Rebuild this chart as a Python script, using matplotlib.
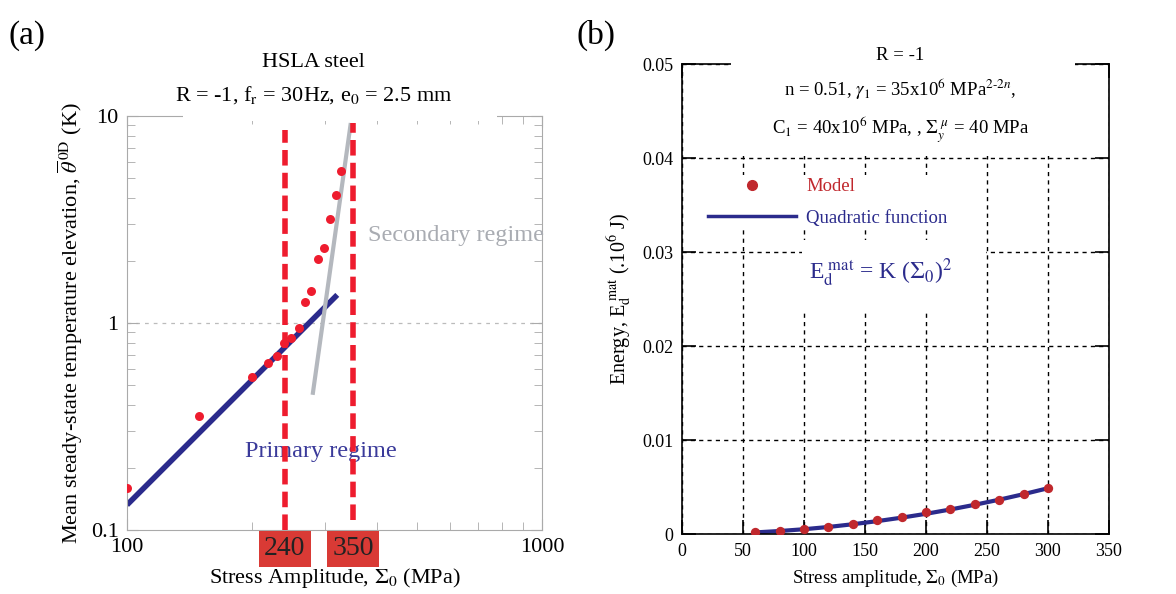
import matplotlib.pyplot as plt
import matplotlib.ticker as mticker
import matplotlib.transforms as mtransforms
from matplotlib.lines import Line2D
from matplotlib.patches import Rectangle

plt.rcParams['font.family'] = ['Liberation Serif', 'DejaVu Serif']
plt.rcParams['mathtext.fontset'] = 'stix'

# (a) HSLA steel: mean steady-state temperature elevation
stress_a = [100, 149, 200, 219, 230, 239, 248, 259, 268, 278, 288, 299, 308, 318, 328]
theta_a = [0.159, 0.356, 0.547, 0.638, 0.693, 0.80, 0.849, 0.948, 1.26, 1.43,
           2.03, 2.30, 3.18, 4.14, 5.42]
primary_x = [100, 321]
primary_y = [0.132, 1.365]
secondary_x = [280, 346]
secondary_y = [0.449, 9.23]
limits = [240, 350]
limit_bottom = [0.1, 0.112]
limit_top = [8.55, 9.26]

# (b) dissipated energy vs stress amplitude
stress_b = [60, 80, 100, 120, 140, 160, 180, 200, 220, 240, 260, 280, 300]
energy_model = [0.0002, 0.00038, 0.00056, 0.0008, 0.00113, 0.00149, 0.00184,
                0.00234, 0.0027, 0.0032, 0.0037, 0.0043, 0.0049]
energy_quad = [0.0002, 0.00035, 0.00054, 0.00078, 0.00107, 0.0014, 0.00177,
               0.00218, 0.00264, 0.00314, 0.00368, 0.00427, 0.0049]

RED = '#ee1c2e'
NAVY = '#2b2b8c'
DARKRED = '#c0282d'
GREY = '#aaaaaa'

fig = plt.figure(figsize=(11.76, 5.94), dpi=100)

# ---------------- panel (a) ----------------
ax1 = fig.add_axes([0.108, 0.108, 0.353, 0.697])
ax1.set_xscale('log')
ax1.set_yscale('log')
ax1.set_xlim(100, 1000)
ax1.set_ylim(0.1, 10)

ax1.axhline(1, color='#bbbbbb', ls=(0, (3, 4)), lw=0.9, zorder=1)
ax1.plot(primary_x, primary_y, color=NAVY, lw=4, solid_capstyle='butt', zorder=2)
ax1.plot(secondary_x, secondary_y, color='#b4b8be', lw=3, solid_capstyle='butt', zorder=2)
ax1.scatter(stress_a, theta_a, s=42, color=RED, zorder=4, linewidths=0)
for x, lo, hi in zip(limits, limit_bottom, limit_top):
    ax1.plot([x, x], [lo, hi], color=RED, lw=4, ls=(0, (2.8, 1.3)), zorder=5)

ax1.xaxis.set_major_locator(mticker.FixedLocator([100, 1000]))
ax1.xaxis.set_major_formatter(mticker.FixedFormatter(['100', '1000']))
ax1.yaxis.set_major_locator(mticker.FixedLocator([0.1, 1, 10]))
ax1.yaxis.set_major_formatter(mticker.FixedFormatter(['0.1', '1', '10']))
ax1.xaxis.set_minor_formatter(mticker.NullFormatter())
ax1.yaxis.set_minor_formatter(mticker.NullFormatter())
ax1.tick_params(which='both', direction='in', top=True, right=True,
                color=GREY, labelsize=16)
ax1.tick_params(which='major', length=8, pad=6)
ax1.tick_params(which='minor', length=6)
for s in ax1.spines.values():
    s.set_color(GREY)

# white box behind the title
ax1.add_patch(Rectangle((0.135, 0.988), 0.757, 0.3, transform=ax1.transAxes,
                        fc='white', ec='none', clip_on=False, zorder=3))
ax1.text(0.45, 1.128, 'HSLA steel', transform=ax1.transAxes, ha='center',
         va='center', fontsize=16, zorder=4)
ax1.text(0.45, 1.051, r'R = -1, f$_\mathrm{r}$ = 30Hz, e$_0$ = 2.5 mm',
         transform=ax1.transAxes, ha='center', va='center', fontsize=16, zorder=4)

ax1.text(0.58, 0.71, 'Secondary regime', transform=ax1.transAxes, color='#a9acb2',
         fontsize=17.5, ha='left', va='center')
ax1.text(0.285, 0.19, 'Primary regime', transform=ax1.transAxes, color='#3a3a9a',
         fontsize=17.5, ha='left', va='center')

trans = mtransforms.blended_transform_factory(ax1.transData, ax1.transAxes)
for x in limits:
    ax1.text(x, -0.046, str(x), transform=trans, ha='center', va='center',
             fontsize=20, color='#222222',
             bbox=dict(boxstyle='square,pad=0.2', fc='#d93a35', ec='none'))

ax1.set_xlabel(r'Stress Amplitude, $\Sigma_0$ (MPa)', fontsize=16, labelpad=6)
ax1.set_ylabel(r'Mean steady-state temperature elevation, '
               r'$\overline{\theta}^{\,\mathrm{0D}}$ (K)', fontsize=16, labelpad=4)

fig.text(0.007, 0.94, '(a)', fontsize=24, va='center')

# ---------------- panel (b) ----------------
ax2 = fig.add_axes([0.580, 0.1005, 0.363, 0.7915])
ax2.set_xlim(0, 350)
ax2.set_ylim(0, 0.05)
ax2.set_axisbelow(True)
ax2.grid(True, color='black', ls=(0, (3, 3)), lw=1)

ax2.plot(stress_b, energy_quad, color=NAVY, lw=3, zorder=2)
ax2.scatter(stress_b, energy_model, s=45, color=DARKRED, zorder=3, linewidths=0)

ax2.set_xticks([0, 50, 100, 150, 200, 250, 300, 350])
ax2.set_yticks([0, 0.01, 0.02, 0.03, 0.04, 0.05])
ax2.set_yticklabels(['0', '0.01', '0.02', '0.03', '0.04', '0.05'])
ax2.tick_params(direction='in', top=True, right=True, length=10, width=1.2,
                labelsize=13, pad=6)
for s in ax2.spines.values():
    s.set_linewidth(1.2)

# white box behind the parameter block, and behind the formula
ax2.add_patch(Rectangle((40.5, 0.0402), 281.5, 0.013, fc='white', ec='none',
                        clip_on=False, zorder=3))
ax2.add_patch(Rectangle((98, 0.0237), 151, 0.0076, fc='white', ec='none', zorder=1))
ax2.text(179, 0.0509, 'R = -1', ha='center', va='center', fontsize=13.5, zorder=4)
ax2.text(179, 0.0473, r'n = 0.51, $\gamma_1$ = 35x10$^6$ MPa$^{2\text{-}2n}$,',
         ha='center', va='center', fontsize=13.5, zorder=4)
ax2.text(179, 0.0430, r'C$_1$ = 40x10$^6$ MPa, , $\Sigma_y^{\ \mu}$ = 40 MPa',
         ha='center', va='center', fontsize=13.5, zorder=4)

handles = [Line2D([], [], ls='none', marker='o', ms=7, color=DARKRED),
           Line2D([], [], color=NAVY, lw=2.5)]
leg = ax2.legend(handles, ['Model', 'Quadratic function'], loc='upper left',
                 bbox_to_anchor=(0.03, 0.785), fontsize=13.5, handlelength=4.7,
                 handletextpad=0.55, labelspacing=0.75, frameon=True,
                 fancybox=False, edgecolor='none', framealpha=1, borderpad=0.2,
                 labelcolor=[DARKRED, NAVY])

ax2.text(104, 0.0278, r'E$_\mathrm{d}^{\ \mathrm{mat}}$ = K ($\Sigma_0$)$^2$',
         color=NAVY, fontsize=17, ha='left', va='center', zorder=4)

ax2.set_xlabel(r'Stress amplitude, $\Sigma_0$ (MPa)', fontsize=13.5, labelpad=6)
ax2.set_ylabel(r'Energy, E$_\mathrm{d}^{\ \mathrm{mat}}$ (.10$^6$ J)', fontsize=14.5,
               labelpad=6)

fig.text(0.49, 0.94, '(b)', fontsize=24, va='center')

fig.savefig('out.png', dpi=100)
